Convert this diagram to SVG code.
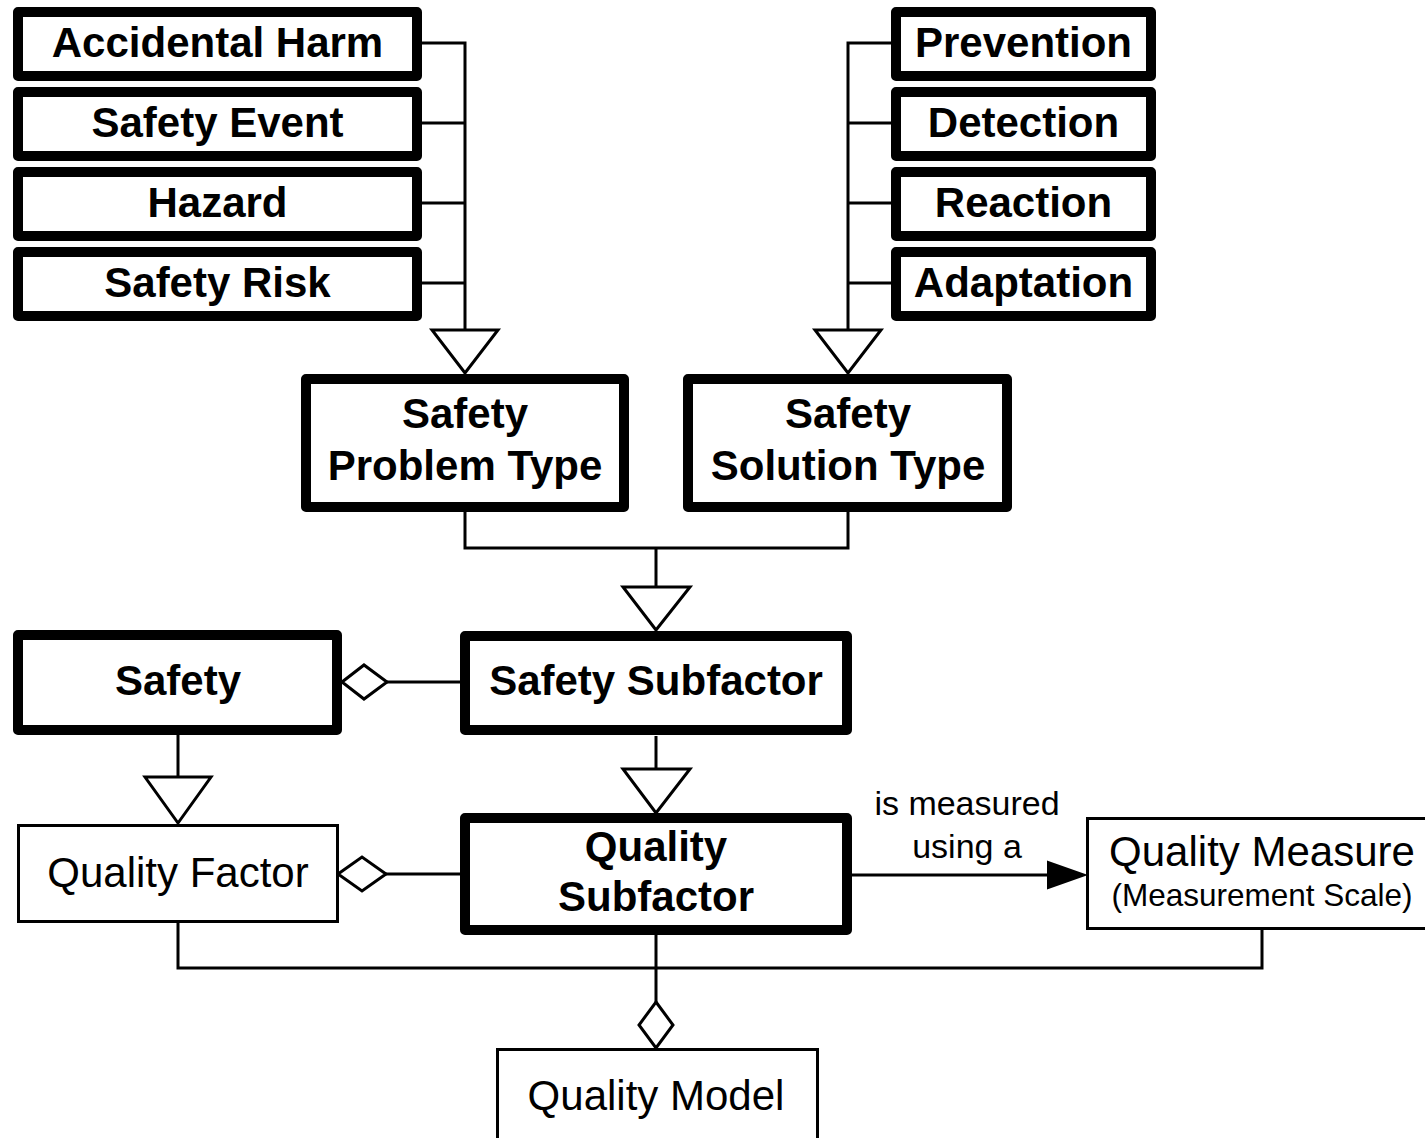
<svg xmlns="http://www.w3.org/2000/svg" width="1425" height="1138" viewBox="0 0 1425 1138">
<style>
.thick{fill:#fff;stroke:#000;stroke-width:10;stroke-linejoin:round}
.thin{fill:#fff;stroke:#000;stroke-width:3}
.b{font-family:"Liberation Sans",Arial,sans-serif;font-weight:bold;font-size:42px;text-anchor:middle;fill:#000}
.r{font-family:"Liberation Sans",Arial,sans-serif;font-size:42px;text-anchor:middle;fill:#000}
.s{font-family:"Liberation Sans",Arial,sans-serif;font-size:31.5px;text-anchor:middle;fill:#000}
.lab{font-family:"Liberation Sans",Arial,sans-serif;font-size:34px;text-anchor:middle;fill:#000}
.ln{fill:none;stroke:#000;stroke-width:3}
.hd{fill:#fff;stroke:#000;stroke-width:3}
</style>
<rect width="1425" height="1138" fill="#fff"/>
<g id="connectors">
<path class="ln" d="M422,43H465V330M422,123H465M422,203H465M422,283H465"/>
<polygon class="hd" points="432,330 498,330 465,373"/>
<path class="ln" d="M891,43H848V330M891,123H848M891,203H848M891,283H848"/>
<polygon class="hd" points="815,330 881,330 848,373"/>
<path class="ln" d="M465,512V548H848V512M656,548V587"/>
<polygon class="hd" points="623,587 690,587 656,630"/>
<path class="ln" d="M387,682H460"/>
<polygon class="hd" points="342,682 364,665 387,682 364,699"/>
<path class="ln" d="M178,735V777"/>
<polygon class="hd" points="145,777 211,777 178,823"/>
<path class="ln" d="M656,736V769"/>
<polygon class="hd" points="623,769 690,769 656,813"/>
<path class="ln" d="M386,874H460"/>
<polygon class="hd" points="338,874 362,857 386,874 362,891"/>
<path class="ln" d="M852,875H1050"/>
<polygon fill="#000" stroke="#000" stroke-width="2" points="1048,862 1085,875 1048,888"/>
<text class="lab" x="967" y="815">is measured</text>
<text class="lab" x="967" y="858">using a</text>
<path class="ln" d="M178,923V968H1262V930M656,935V1002"/>
<polygon class="hd" points="656,1002 673,1025 656,1048 639,1025"/>
</g>
<g id="accidental-harm"><rect class="thick" x="18" y="12" width="399" height="64"/><text class="b" x="217.5" y="57">Accidental Harm</text></g>
<g id="safety-event"><rect class="thick" x="18" y="92" width="399" height="64"/><text class="b" x="217.5" y="137">Safety Event</text></g>
<g id="hazard"><rect class="thick" x="18" y="172" width="399" height="64"/><text class="b" x="217.5" y="217">Hazard</text></g>
<g id="safety-risk"><rect class="thick" x="18" y="252" width="399" height="64"/><text class="b" x="217.5" y="297">Safety Risk</text></g>
<g id="prevention"><rect class="thick" x="896" y="12" width="255" height="64"/><text class="b" x="1023.5" y="57">Prevention</text></g>
<g id="detection"><rect class="thick" x="896" y="92" width="255" height="64"/><text class="b" x="1023.5" y="137">Detection</text></g>
<g id="reaction"><rect class="thick" x="896" y="172" width="255" height="64"/><text class="b" x="1023.5" y="217">Reaction</text></g>
<g id="adaptation"><rect class="thick" x="896" y="252" width="255" height="64"/><text class="b" x="1023.5" y="297">Adaptation</text></g>
<g id="safety-problem-type"><rect class="thick" x="306" y="379" width="318" height="128"/><text class="b" x="465" y="428">Safety</text><text class="b" x="465" y="480">Problem Type</text></g>
<g id="safety-solution-type"><rect class="thick" x="688" y="379" width="319" height="128"/><text class="b" x="848" y="428">Safety</text><text class="b" x="848" y="480">Solution Type</text></g>
<g id="safety"><rect class="thick" x="18" y="635" width="319" height="95"/><text class="b" x="178" y="695">Safety</text></g>
<g id="safety-subfactor"><rect class="thick" x="465" y="636" width="382" height="94"/><text class="b" x="656" y="695">Safety Subfactor</text></g>
<g id="quality-factor"><rect class="thin" x="18.5" y="825.5" width="319" height="96"/><text class="r" x="178" y="887">Quality Factor</text></g>
<g id="quality-subfactor"><rect class="thick" x="465" y="818" width="382" height="112"/><text class="b" x="656" y="861">Quality</text><text class="b" x="656" y="911">Subfactor</text></g>
<g id="quality-measure"><rect class="thin" x="1087.5" y="818.5" width="345" height="110"/><text class="r" x="1262" y="866">Quality Measure</text><text class="s" x="1262" y="906">(Measurement Scale)</text></g>
<g id="quality-model"><rect class="thin" x="497.5" y="1049.5" width="320" height="100"/><text class="r" x="656" y="1110">Quality Model</text></g>
</svg>
